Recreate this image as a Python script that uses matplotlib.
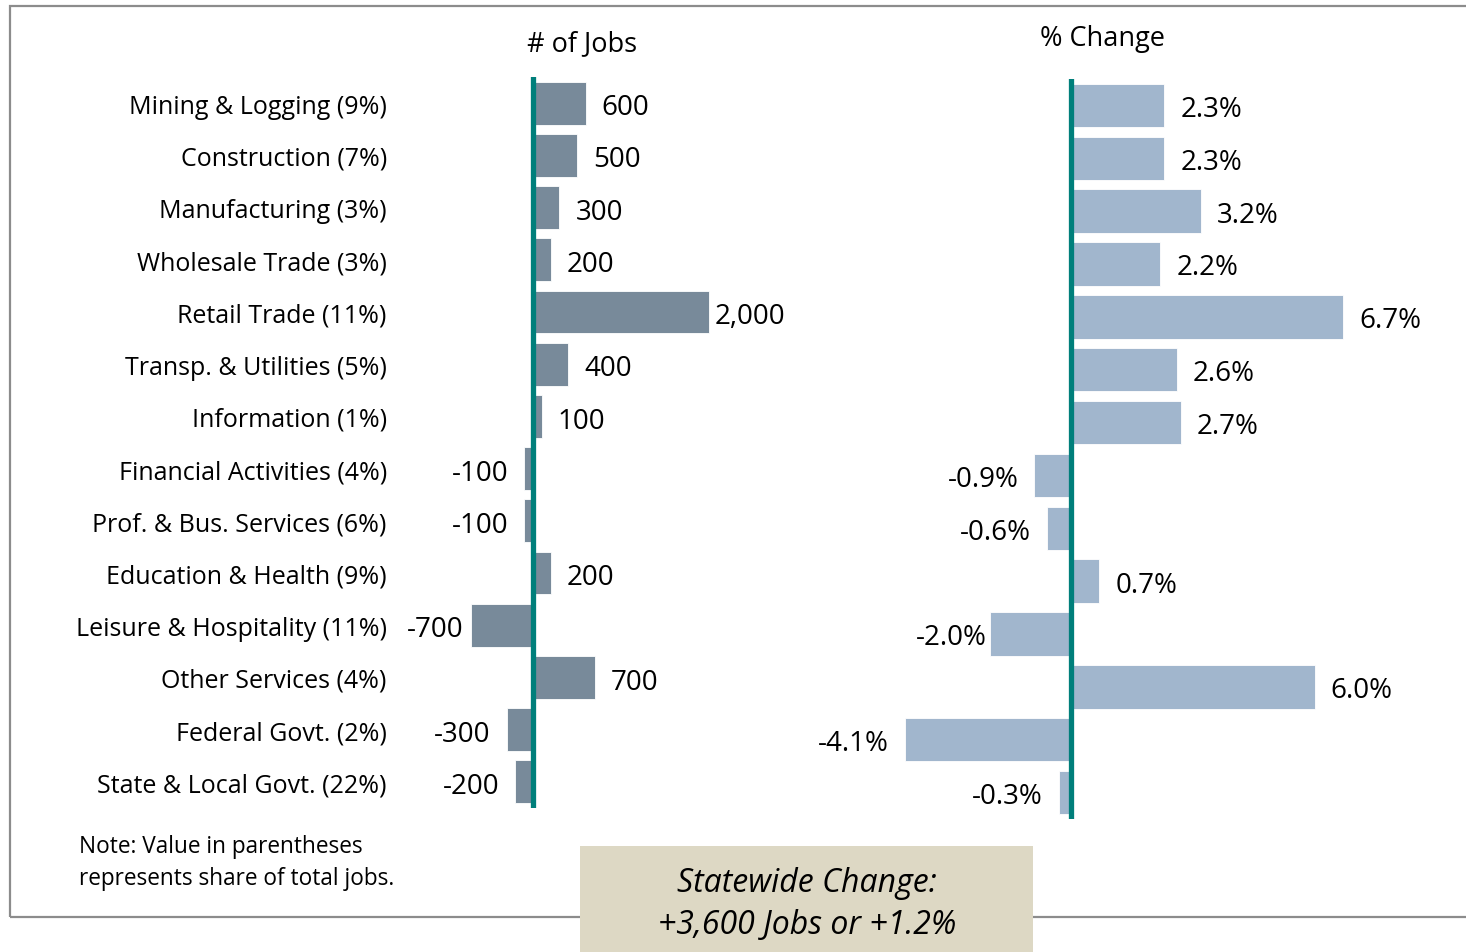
import matplotlib
matplotlib.use("Agg")
import matplotlib.pyplot as plt
from matplotlib.patches import Rectangle

plt.rcParams['font.family'] = ['Open Sans', 'DejaVu Sans']

# Data
categories = ["Mining & Logging (9%)", "Construction (7%)", "Manufacturing (3%)",
              "Wholesale Trade (3%)", "Retail Trade (11%)", "Transp. & Utilities (5%)",
              "Information (1%)", "Financial Activities (4%)", "Prof. & Bus. Services (6%)",
              "Education & Health (9%)", "Leisure & Hospitality (11%)", "Other Services (4%)",
              "Federal Govt. (2%)", "State & Local Govt. (22%)"]
jobs = [600, 500, 300, 200, 2000, 400, 100, -100, -100, 200, -700, 700, -300, -200]
pct = [2.3, 2.3, 3.2, 2.2, 6.7, 2.6, 2.7, -0.9, -0.6, 0.7, -2.0, 6.0, -4.1, -0.3]

W, H = 1466, 953
fig = plt.figure(figsize=(W / 100, H / 100), dpi=100)


def px_axes(x0, x1, y0, y1):
    # pixel box (top-left origin) -> figure axes
    return fig.add_axes([x0 / W, 1 - y1 / H, (x1 - x0) / W, (y1 - y0) / H])


# outer frame (open on the right)
fig.patches.append(Rectangle((10 / W, 1 - 918 / H), 1.2, (918 - 7) / H,
                             transform=fig.transFigure, fill=False,
                             edgecolor='#8c8c8c', linewidth=1.6, zorder=0))

teal = '#007f7b'
rows = range(len(categories))

# left panel: # of jobs
ax1 = px_axes(400, 800, 78, 809)
ax1.barh(rows, jobs, height=0.82, color='#788a9a', edgecolor='white', linewidth=0.6)
ax1.axvline(0, color=teal, linewidth=3.8)
ax1.set_xlim(-1511, 3033)
ax1.set_ylim(len(categories) - 0.5, -0.5)
ax1.set_yticks(list(rows))
ax1.set_yticklabels(categories, fontsize=18)
ax1.tick_params(axis='y', length=0, pad=9.5)
ax1.set_xticks([])
for s in ax1.spines.values():
    s.set_visible(False)
ax1.patch.set_alpha(0)

job_off = {4: 4, 10: 6}
for i, v in enumerate(jobs):
    off = job_off.get(i, 11.5)
    ax1.annotate(f"{v:,}", (v, i), xytext=(off if v > 0 else -off, -3),
                 textcoords='offset points', va='center',
                 ha='left' if v > 0 else 'right', fontsize=20)

# right panel: % change
ax2 = px_axes(800, 1466, 80, 820)
ax2.barh(rows, pct, height=0.82, color='#a1b6cd', edgecolor='white', linewidth=0.6)
ax2.axvline(0, color=teal, linewidth=3.8)
ax2.set_xlim(-271 / 40.6, 395 / 40.6)
ax2.set_ylim(len(categories) - 0.5, -0.5)
ax2.set_xticks([])
ax2.set_yticks([])
for s in ax2.spines.values():
    s.set_visible(False)
ax2.patch.set_alpha(0)

pct_off = {10: 2}
for i, v in enumerate(pct):
    off = pct_off.get(i, 11.5)
    ax2.annotate(f"{v:.1f}%", (v, i), xytext=(off if v > 0 else -off, -2.5),
                 textcoords='offset points', va='center',
                 ha='left' if v > 0 else 'right', fontsize=20)

fig.text(582 / W, 1 - 44 / H, "# of Jobs", ha='center', va='center', fontsize=19.5)
fig.text(1103 / W, 1 - 39 / H, "% Change", ha='center', va='center', fontsize=19.5)

fig.text(79 / W, 1 - 847 / H, "Note: Value in parentheses", ha='left', va='center', fontsize=16.3)
fig.text(79 / W, 1 - 879 / H, "represents share of total jobs.", ha='left', va='center', fontsize=16.3)

# summary box
fig.patches.append(Rectangle((580 / W, 0), (1033 - 580) / W, (953 - 847) / H,
                             transform=fig.transFigure, facecolor='#ddd8c4',
                             edgecolor='none', zorder=2))
fig.text(807 / W, 1 - 884 / H, "Statewide Change:", ha='center', va='center',
         fontsize=23, style='italic', zorder=3)
fig.text(807 / W, 1 - 926 / H, "+3,600 Jobs or +1.2%", ha='center', va='center',
         fontsize=23, style='italic', zorder=3)

fig.savefig("out.png", dpi=100)
